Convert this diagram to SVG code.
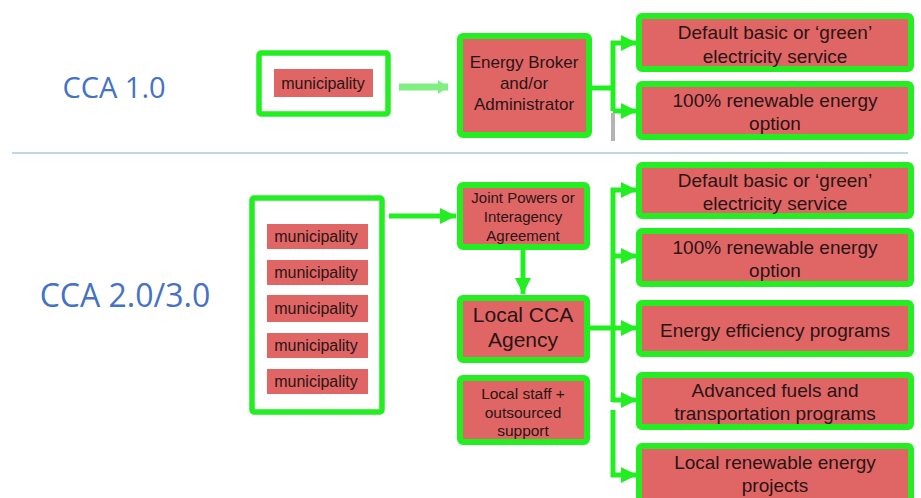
<svg xmlns="http://www.w3.org/2000/svg" width="921" height="498" viewBox="0 0 921 498">
<defs>
<style>
.box{fill:#e06666;stroke:#22ee22;stroke-width:6}
.frame{fill:#ffffff;stroke:#22ee22;stroke-width:5.5}
.muni{fill:#e06666}
.t{font-family:"Liberation Sans",Arial,sans-serif;fill:#2a1414;text-anchor:middle}
.lbl{font-family:"Open Sans",Lato,sans-serif;fill:#4472c4;text-anchor:middle}
.conn{stroke:#22ee22;stroke-width:5;fill:none}
</style>
<marker id="ah" markerUnits="userSpaceOnUse" markerWidth="16" markerHeight="16" refX="16" refY="8" orient="auto">
<path d="M0,0 L16,8 L0,16 z" fill="#22ee22"/>
</marker>
<marker id="ahl" markerUnits="userSpaceOnUse" markerWidth="10" markerHeight="16" refX="10" refY="8" orient="auto">
<path d="M0,1 L10,8 L0,15 z" fill="#80ee80"/>
</marker>
</defs>
<rect width="921" height="498" fill="#ffffff"/>

<g id="labels">
<text class="lbl" x="114" y="98" font-size="29">CCA 1.0</text>
<text class="lbl" x="125" y="307" font-size="32">CCA 2.0/3.0</text>
<line x1="12" y1="153" x2="908" y2="153" stroke="#a8cbe0" stroke-width="1.5"/>
</g>

<g id="connectors">
<line x1="399" y1="87" x2="448" y2="87" stroke="#80ee80" stroke-width="7" marker-end="url(#ahl)"/>
<line x1="592" y1="88" x2="613" y2="88" class="conn"/>
<path d="M613,111 V43 H637" class="conn" marker-end="url(#ah)"/>
<line x1="613" y1="111" x2="637" y2="111" class="conn" marker-end="url(#ah)"/>
<line x1="613" y1="113" x2="613" y2="141" stroke="#b4b4b4" stroke-width="4"/>

<line x1="389" y1="216" x2="456" y2="216" class="conn" marker-end="url(#ah)"/>
<line x1="523" y1="250" x2="523" y2="294" class="conn" marker-end="url(#ah)"/>
<line x1="590" y1="328" x2="613" y2="328" class="conn"/>
<path d="M613,402 V190 H637" class="conn" marker-end="url(#ah)"/>
<line x1="613" y1="256" x2="637" y2="256" class="conn" marker-end="url(#ah)"/>
<line x1="613" y1="328" x2="637" y2="328" class="conn" marker-end="url(#ah)"/>
<path d="M613,400 H637" class="conn" marker-end="url(#ah)"/>
<path d="M613,410 V475 H637" class="conn" marker-end="url(#ah)"/>
</g>

<g id="muni-top">
<rect class="frame" x="259" y="53" width="129" height="61" rx="2"/>
<rect class="muni" x="274" y="69" width="99" height="28"/>
<text class="t" x="323" y="89" font-size="16">municipality</text>
</g>

<g id="broker">
<rect class="box" x="460" y="36" width="129" height="99" rx="3"/>
<text class="t" x="524" y="68" font-size="17">Energy Broker</text>
<text class="t" x="524" y="89" font-size="17">and/or</text>
<text class="t" x="524" y="110" font-size="17">Administrator</text>
</g>

<g id="top-default">
<rect class="box" x="639" y="16" width="272" height="53" rx="3"/>
<text class="t" x="775" y="39" font-size="19">Default basic or ‘green’</text>
<text class="t" x="775" y="63" font-size="19">electricity service</text>
</g>

<g id="top-renewable">
<rect class="box" x="639" y="84" width="272" height="53" rx="3"/>
<text class="t" x="775" y="107" font-size="19">100% renewable energy</text>
<text class="t" x="775" y="130" font-size="19">option</text>
</g>

<g id="muni-group">
<rect class="frame" x="252" y="198" width="130" height="214" rx="2"/>
<rect class="muni" x="267" y="224" width="101" height="25"/>
<text class="t" x="316" y="242" font-size="16">municipality</text>
<rect class="muni" x="267" y="260" width="101" height="25"/>
<text class="t" x="316" y="278" font-size="16">municipality</text>
<rect class="muni" x="267" y="295" width="101" height="27"/>
<text class="t" x="316" y="314" font-size="16">municipality</text>
<rect class="muni" x="267" y="333" width="101" height="25"/>
<text class="t" x="316" y="351" font-size="16">municipality</text>
<rect class="muni" x="267" y="369" width="101" height="25"/>
<text class="t" x="316" y="387" font-size="16">municipality</text>
</g>

<g id="joint">
<rect class="box" x="460" y="185" width="127" height="62" rx="3"/>
<text class="t" x="523" y="203" font-size="15">Joint Powers or</text>
<text class="t" x="523" y="222" font-size="15">Interagency</text>
<text class="t" x="523" y="241" font-size="15">Agreement</text>
</g>

<g id="local-cca">
<rect class="box" x="460" y="298" width="127" height="62" rx="3"/>
<text class="t" x="523" y="322" font-size="21">Local CCA</text>
<text class="t" x="523" y="347" font-size="21">Agency</text>
</g>

<g id="local-staff">
<rect class="box" x="460" y="378" width="127" height="64" rx="3"/>
<text class="t" x="523" y="399" font-size="15.5">Local staff +</text>
<text class="t" x="523" y="418" font-size="15.5">outsourced</text>
<text class="t" x="523" y="436" font-size="15.5">support</text>
</g>

<g id="default">
<rect class="box" x="639" y="165" width="272" height="51" rx="3"/>
<text class="t" x="775" y="187" font-size="19">Default basic or ‘green’</text>
<text class="t" x="775" y="210" font-size="19">electricity service</text>
</g>

<g id="renewable">
<rect class="box" x="639" y="231" width="272" height="53" rx="3"/>
<text class="t" x="775" y="254" font-size="19">100% renewable energy</text>
<text class="t" x="775" y="277" font-size="19">option</text>
</g>

<g id="efficiency">
<rect class="box" x="639" y="303" width="272" height="51" rx="3"/>
<text class="t" x="775" y="337" font-size="19">Energy efficiency programs</text>
</g>

<g id="fuels">
<rect class="box" x="639" y="375" width="272" height="52" rx="3"/>
<text class="t" x="775" y="397" font-size="19">Advanced fuels and</text>
<text class="t" x="775" y="420" font-size="19">transportation programs</text>
</g>

<g id="local-renewable">
<rect class="box" x="639" y="446" width="272" height="56" rx="3"/>
<text class="t" x="775" y="469" font-size="19">Local renewable energy</text>
<text class="t" x="775" y="492" font-size="19">projects</text>
</g>
</svg>
